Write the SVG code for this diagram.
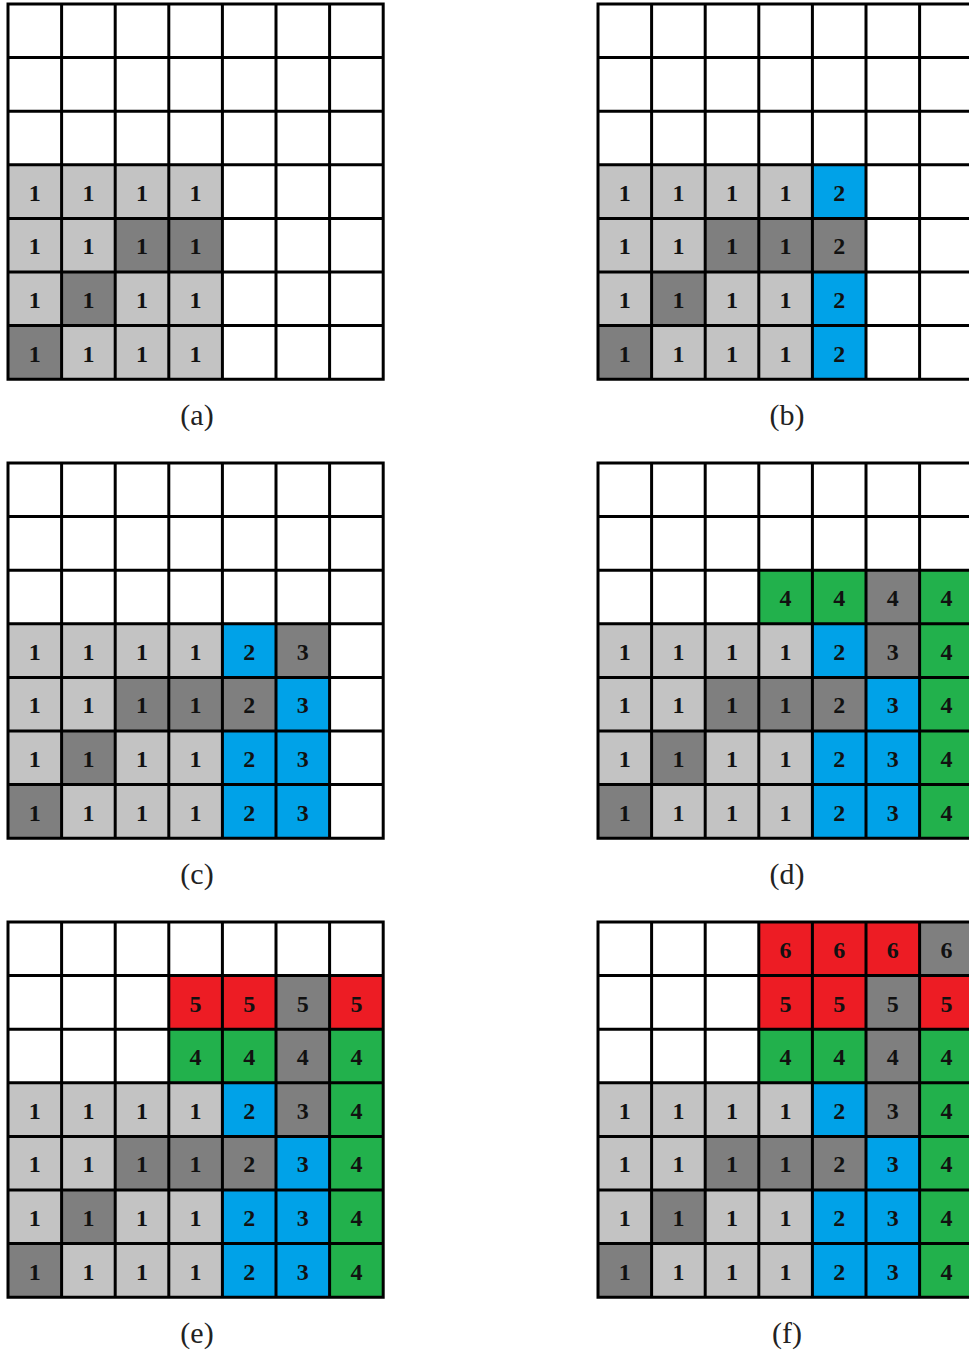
<svg xmlns="http://www.w3.org/2000/svg" xmlns:xlink="http://www.w3.org/1999/xlink" width="969" height="1354" viewBox="0 0 969 1354">
<style>
.L{fill:#c3c3c3}.D{fill:#7f7f7f}.B{fill:#00a2e8}.G{fill:#22b14c}.R{fill:#ed1c24}
.n{font-family:"Liberation Serif","Times New Roman",serif;font-weight:bold;font-size:24px;text-anchor:middle;fill:#111}
.cap{font-family:"Liberation Serif","Times New Roman",serif;font-size:30px;text-anchor:middle;fill:#222}
.grid{fill:none;stroke:#000;stroke-width:3;stroke-linecap:square}
</style>
<defs>
<path id="grid" class="grid" d="M0 0H375.2M0 53.6H375.2M0 107.2H375.2M0 160.8H375.2M0 214.4H375.2M0 268H375.2M0 321.6H375.2M0 375.2H375.2M0 0V375.2M53.6 0V375.2M107.2 0V375.2M160.8 0V375.2M214.4 0V375.2M268 0V375.2M321.6 0V375.2M375.2 0V375.2"/>
<g id="base">
<rect width="375.2" height="375.2" fill="#fff"/>
<rect class="L" x="0" y="160.8" width="214.4" height="214.4"/>
<rect class="D" x="107.2" y="214.4" width="107.2" height="53.6"/>
<rect class="D" x="53.6" y="268" width="53.6" height="53.6"/>
<rect class="D" x="0" y="321.6" width="53.6" height="53.6"/>
<g class="n">
<text x="26.8" y="196.8">1</text><text x="80.4" y="196.8">1</text><text x="134" y="196.8">1</text><text x="187.6" y="196.8">1</text>
<text x="26.8" y="250.4">1</text><text x="80.4" y="250.4">1</text><text x="134" y="250.4">1</text><text x="187.6" y="250.4">1</text>
<text x="26.8" y="304">1</text><text x="80.4" y="304">1</text><text x="134" y="304">1</text><text x="187.6" y="304">1</text>
<text x="26.8" y="357.6">1</text><text x="80.4" y="357.6">1</text><text x="134" y="357.6">1</text><text x="187.6" y="357.6">1</text>
</g>
</g>
<g id="c2">
<rect class="B" x="214.4" y="160.8" width="53.6" height="214.4"/>
<rect class="D" x="214.4" y="214.4" width="53.6" height="53.6"/>
<g class="n"><text x="241.2" y="196.8">2</text><text x="241.2" y="250.4">2</text><text x="241.2" y="304">2</text><text x="241.2" y="357.6">2</text></g>
</g>
<g id="c3">
<rect class="B" x="268" y="160.8" width="53.6" height="214.4"/>
<rect class="D" x="268" y="160.8" width="53.6" height="53.6"/>
<g class="n"><text x="294.8" y="196.8">3</text><text x="294.8" y="250.4">3</text><text x="294.8" y="304">3</text><text x="294.8" y="357.6">3</text></g>
</g>
<g id="c4">
<rect class="G" x="160.8" y="107.2" width="214.4" height="53.6"/>
<rect class="D" x="268" y="107.2" width="53.6" height="53.6"/>
<rect class="G" x="321.6" y="160.8" width="53.6" height="214.4"/>
<g class="n"><text x="187.6" y="143.2">4</text><text x="241.2" y="143.2">4</text><text x="294.8" y="143.2">4</text><text x="348.4" y="143.2">4</text>
<text x="348.4" y="196.8">4</text><text x="348.4" y="250.4">4</text><text x="348.4" y="304">4</text><text x="348.4" y="357.6">4</text></g>
</g>
<g id="c5">
<rect class="R" x="160.8" y="53.6" width="214.4" height="53.6"/>
<rect class="D" x="268" y="53.6" width="53.6" height="53.6"/>
<g class="n"><text x="187.6" y="89.6">5</text><text x="241.2" y="89.6">5</text><text x="294.8" y="89.6">5</text><text x="348.4" y="89.6">5</text></g>
</g>
<g id="c6">
<rect class="R" x="160.8" y="0" width="214.4" height="53.6"/>
<rect class="D" x="321.6" y="0" width="53.6" height="53.6"/>
<g class="n"><text x="187.6" y="36">6</text><text x="241.2" y="36">6</text><text x="294.8" y="36">6</text><text x="348.4" y="36">6</text></g>
</g>
</defs>
<g id="panel-a" transform="translate(8,4)">
<use xlink:href="#base"/><use xlink:href="#grid"/>
</g>
<g id="panel-b" transform="translate(598,4)">
<use xlink:href="#base"/><use xlink:href="#c2"/><use xlink:href="#grid"/>
</g>
<g id="panel-c" transform="translate(8,463)">
<use xlink:href="#base"/><use xlink:href="#c2"/><use xlink:href="#c3"/><use xlink:href="#grid"/>
</g>
<g id="panel-d" transform="translate(598,463)">
<use xlink:href="#base"/><use xlink:href="#c2"/><use xlink:href="#c3"/><use xlink:href="#c4"/><use xlink:href="#grid"/>
</g>
<g id="panel-e" transform="translate(8,922)">
<use xlink:href="#base"/><use xlink:href="#c2"/><use xlink:href="#c3"/><use xlink:href="#c4"/><use xlink:href="#c5"/><use xlink:href="#grid"/>
</g>
<g id="panel-f" transform="translate(598,922)">
<use xlink:href="#base"/><use xlink:href="#c2"/><use xlink:href="#c3"/><use xlink:href="#c4"/><use xlink:href="#c5"/><use xlink:href="#c6"/><use xlink:href="#grid"/>
</g>
<g id="captions">
<text class="cap" x="197" y="425">(a)</text>
<text class="cap" x="787" y="425">(b)</text>
<text class="cap" x="197" y="884">(c)</text>
<text class="cap" x="787" y="884">(d)</text>
<text class="cap" x="197" y="1343">(e)</text>
<text class="cap" x="787" y="1343">(f)</text>
</g>
<g id="connectors"/>
</svg>
